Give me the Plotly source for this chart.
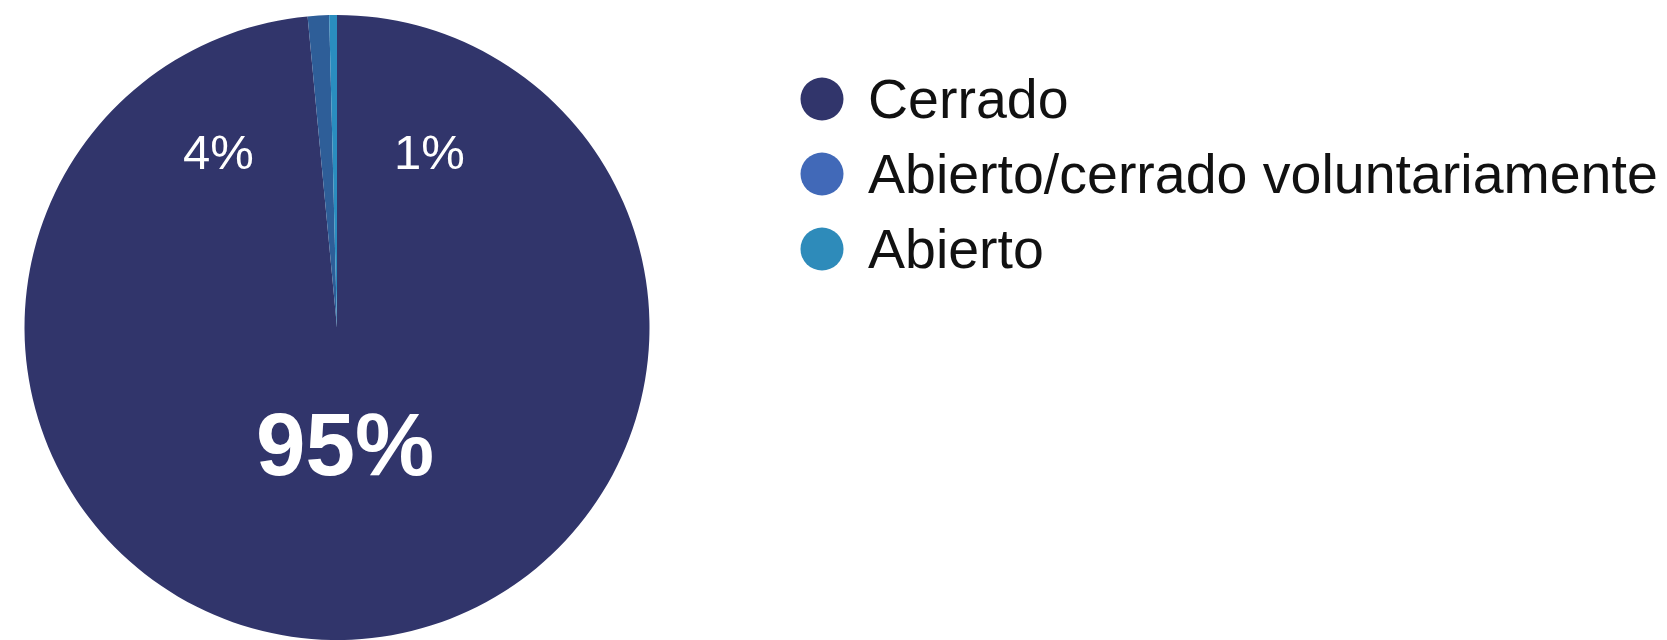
import plotly.graph_objects as go

# ---- data ----
categories = ["Cerrado", "Abierto/cerrado voluntariamente", "Abierto"]
shares = [98.5, 1.1, 0.4]          # slice sizes as drawn
share_labels = ["95%", "4%", "1%"]  # printed labels

slice_colors = ["#31356B", "#2E5E98", "#2A8DBF"]
legend_colors = ["#31356B", "#4169B8", "#2E8BBA"]

W, H = 1667, 640

def px(x):
    return x / W

def py(y):
    return 1 - y / H

fig = go.Figure()

# pie: center ~ (337, 328), radius ~313
fig.add_trace(go.Pie(
    labels=categories,
    values=shares,
    sort=False,
    direction="clockwise",
    rotation=0,
    textinfo="none",
    hoverinfo="label+percent",
    marker=dict(colors=slice_colors, line=dict(width=0)),
    showlegend=False,
    domain=dict(x=[px(22), px(652)], y=[0.0, py(15)]),
))

annotations = []
shapes = []

# labels on the pie
label_pos = [(345, 444, 89, True), (218, 152, 49, False), (429, 152, 49, False)]
for txt, (x, y, size, bold) in zip(share_labels, label_pos):
    annotations.append(dict(
        text=f"<b>{txt}</b>" if bold else txt,
        x=px(x), y=py(y), xref="paper", yref="paper",
        xanchor="center", yanchor="middle", showarrow=False,
        font=dict(family="Liberation Sans, Arial, sans-serif", size=size, color="white"),
    ))

# custom legend with round markers
legend_y = [99, 174, 249]
for name, col, y in zip(categories, legend_colors, legend_y):
    shapes.append(dict(
        type="circle", xref="paper", yref="paper",
        xsizemode="pixel", ysizemode="pixel",
        xanchor=px(822), yanchor=py(y),
        x0=-21.5, x1=21.5, y0=-21.5, y1=21.5,
        fillcolor=col, line=dict(width=0),
    ))
    annotations.append(dict(
        text=name, x=px(866), y=py(y), xref="paper", yref="paper",
        xanchor="left", yanchor="middle", showarrow=False,
        font=dict(family="Liberation Sans, Arial, sans-serif", size=55.5, color="#111111"),
    ))

fig.update_layout(
    width=W, height=H,
    margin=dict(l=0, r=0, t=0, b=0),
    paper_bgcolor="white",
    plot_bgcolor="white",
    annotations=annotations,
    shapes=shapes,
    showlegend=False,
)

fig.write_html(
    "out.html",
    config={"displayModeBar": False},
    post_script="document.body.style.margin='0';",
)
